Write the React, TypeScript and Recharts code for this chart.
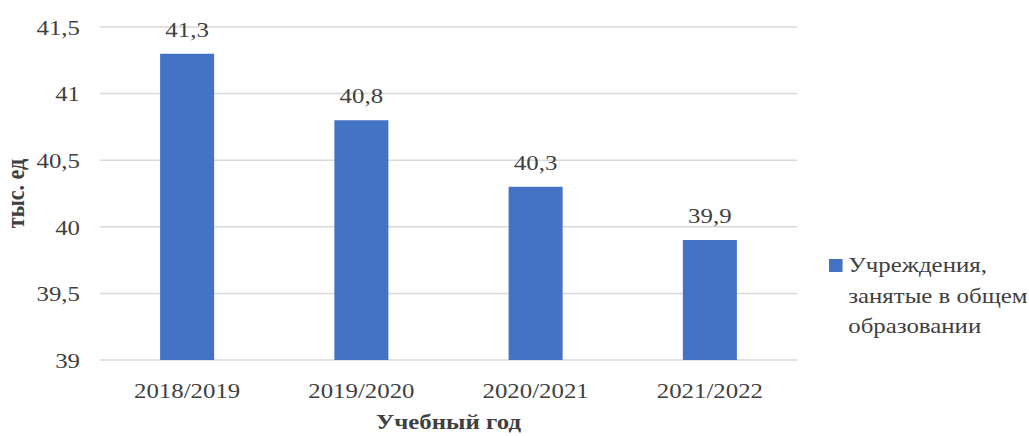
import React from "react"
import { BarChart, Bar, XAxis, YAxis, CartesianGrid, LabelList, Label } from "recharts"

document.body.style.margin = "0"

const years = ["2018/2019", "2019/2020", "2020/2021", "2021/2022"]
const institutions = [41.3, 40.8, 40.3, 39.9]
const yTicks = [39, 39.5, 40, 40.5, 41, 41.5]

const seriesLines = ["Учреждения,", "занятые в общем", "образовании"]

const data = years.map((year, i) => ({ year, value: institutions[i] }))

const font = "Liberation Serif"
const textColor = "#404040"
const barColor = "#4472C4"
// the reference picture is a little stretched sideways
const sx = 1.13
const fmt = (v: number) => String(v).replace(".", ",")

function XTick(props: any) {
  const { x, y, payload } = props
  return (
    <g transform={`translate(${x},${y}) scale(${sx},1)`}>
      <text textAnchor="middle" dy="0.71em" fill={textColor} fontSize={22} fontFamily={font}>
        {payload.value}
      </text>
    </g>
  )
}

function YTick(props: any) {
  const { x, y, payload } = props
  return (
    <g transform={`translate(${x},${y}) scale(${sx},1)`}>
      <text textAnchor="end" dy="0.355em" fill={textColor} fontSize={22} fontFamily={font}>
        {fmt(payload.value)}
      </text>
    </g>
  )
}

function ValueLabel(props: any) {
  const { x, y, width, value } = props
  return (
    <g transform={`translate(${x + width / 2},${y - 17}) scale(${sx},1)`}>
      <text textAnchor="middle" fill={textColor} fontSize={22} fontFamily={font}>
        {fmt(value)}
      </text>
    </g>
  )
}

function XTitle(props: any) {
  const { x, y, width, height } = props.viewBox
  return (
    <g transform={`translate(${x + width / 2},${y + height - 7}) scale(${sx},1)`}>
      <text textAnchor="middle" fill={textColor} fontSize={22} fontWeight="bold" fontFamily={font}>
        Учебный год
      </text>
    </g>
  )
}

function YTitle(props: any) {
  const { x, y, height } = props.viewBox
  return (
    <g transform={`translate(${x + 24},${y + height / 2}) rotate(-90) scale(1,${sx})`}>
      <text textAnchor="middle" fill={textColor} fontSize={22} fontWeight="bold" fontFamily={font}>
        тыс. ед
      </text>
    </g>
  )
}

function LegendBox() {
  return (
    <div
      style={{
        position: "absolute",
        left: 829,
        top: 250,
        display: "flex",
        fontFamily: font,
        fontSize: 22,
        color: textColor,
        lineHeight: "30.5px",
        whiteSpace: "nowrap",
        transform: `scaleX(${sx})`,
        transformOrigin: "left top",
      }}
    >
      <div style={{ width: 12, height: 13, background: barColor, marginTop: 9, marginRight: 5 }} />
      <div>
        {seriesLines.map((l) => (
          <div key={l}>{l}</div>
        ))}
      </div>
    </div>
  )
}

export default function App() {
  return (
    <div style={{ position: "relative", width: 1029, height: 436, background: "#fff", fontFamily: font }}>
      <BarChart
        width={1029}
        height={436}
        data={data}
        margin={{ top: 27, right: 232, bottom: 0, left: 0 }}
        barCategoryGap="34.5%"
      >
        <CartesianGrid vertical={false} stroke="#d9d9d9" strokeWidth={1.5} />
        <XAxis dataKey="year" height={76} axisLine={false} tickLine={false} tickMargin={16} tick={<XTick />}>
          <Label content={<XTitle />} />
        </XAxis>
        <YAxis
          width={100}
          domain={[39, 41.5]}
          ticks={yTicks}
          axisLine={false}
          tickLine={false}
          tickMargin={14}
          tick={<YTick />}
        >
          <Label content={<YTitle />} />
        </YAxis>
        <Bar dataKey="value" fill={barColor} isAnimationActive={false}>
          <LabelList dataKey="value" content={<ValueLabel />} />
        </Bar>
      </BarChart>
      <LegendBox />
    </div>
  )
}
